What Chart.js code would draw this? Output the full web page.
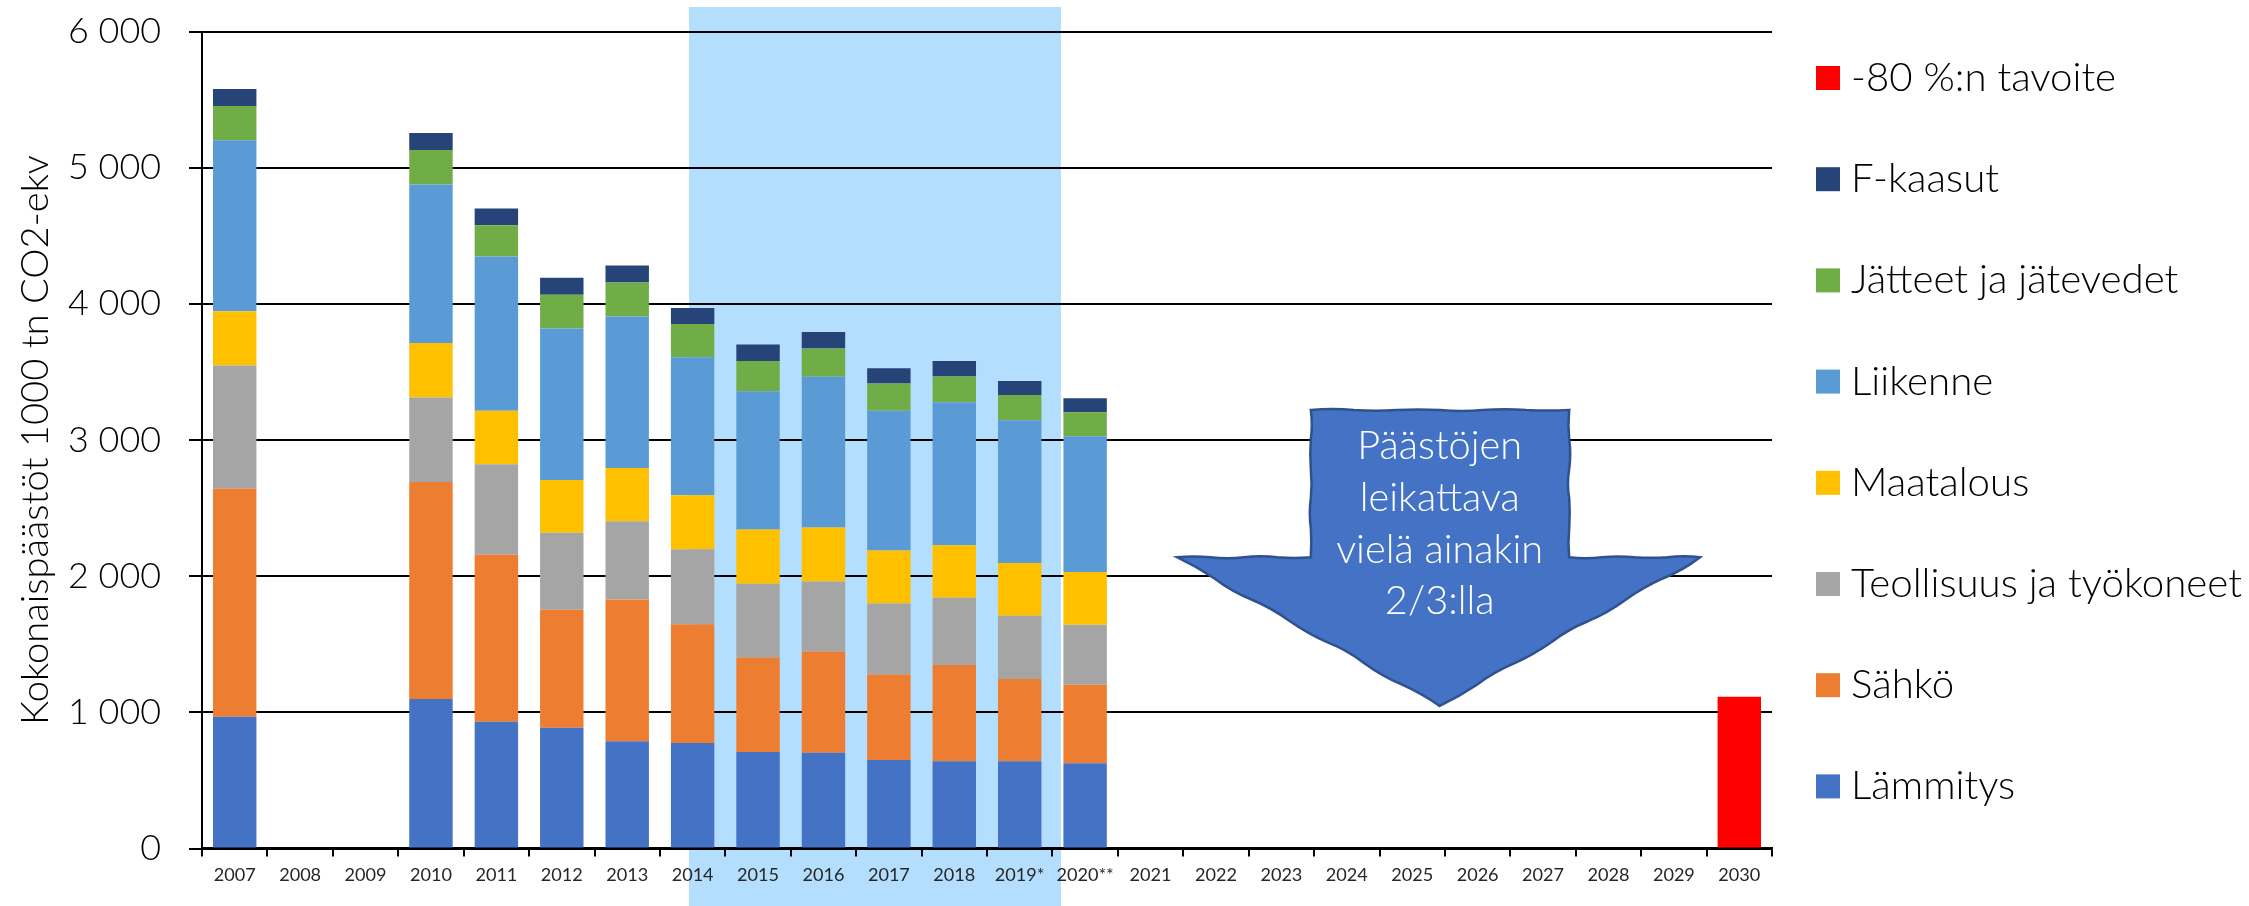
<!DOCTYPE html>
<html>
<head>
    <title>Kokonaispäästöt</title>
    <script src="https://cdn.jsdelivr.net/npm/chart.js"></script>
    <style>
        body { margin: 0; background: #fff; }
    </style>
</head>
<body>
    <canvas id="emissionsChart" width="2249" height="906"></canvas>

    <script>
        // data (1000 tn CO2-ekv)
        const years = ['2007', '2008', '2009', '2010', '2011', '2012', '2013', '2014', '2015', '2016', '2017', '2018', '2019*', '2020**',
                       '2021', '2022', '2023', '2024', '2025', '2026', '2027', '2028', '2029', '2030'];
        const lammitys  = [968, null, null, 1098, 931, 887, 787, 775, 709, 704, 650, 641, 641, 626];
        const sahko     = [1675, null, null, 1594, 1227, 867, 1041, 872, 693, 742, 627, 707, 604, 577];
        const teollisuus = [904, null, null, 620, 664, 564, 576, 551, 543, 514, 522, 494, 465, 441];
        const maatalous = [399, null, null, 401, 392, 389, 391, 396, 397, 397, 389, 385, 387, 387];
        const liikenne  = [1256, null, null, 1163, 1133, 1112, 1112, 1014, 1016, 1107, 1026, 1051, 1048, 997];
        const jatteet   = [250, null, null, 253, 231, 247, 249, 243, 223, 208, 201, 188, 186, 176];
        const fKaasut   = [125, null, null, 125, 122, 125, 125, 119, 120, 122, 112, 115, 103, 103];
        const tavoite   = [null, null, null, null, null, null, null, null, null, null, null, null, null, null,
                           null, null, null, null, null, null, null, null, null, 1115];
        const yMax = 6000;
        const yStep = 1000;
        const arrowLines = ['Päästöjen', 'leikattava', 'vielä ainakin', '2/3:lla'];

        const FONT = 'Lato, "Open Sans", sans-serif';
        const measureCtx = document.createElement('canvas').getContext('2d');
        function fitSize(text, width, weight) {
            measureCtx.font = weight + ' 100px ' + FONT;
            return 100 * width / measureCtx.measureText(text).width;
        }
        const yTickSize = fitSize('6 000', 93, 300);
        const xTickSize = fitSize('2007', 42, 400);
        const legendSize = fitSize('Teollisuus ja työkoneet', 391, 300);
        const arrowSize = fitSize('vielä ainakin', 207, 300);
        const titleSize = fitSize('Kokonaispäästöt 1000 tn CO2-ekv', 570, 300);

        function spaced(v) {
            return String(v).replace(/\B(?=(\d{3})+(?!\d))/g, ' ');
        }

        // light blue band behind 2014-2019
        const shadePlugin = {
            id: 'shade',
            beforeDraw(chart) {
                const x = chart.scales.x, y = chart.scales.y, ctx = chart.ctx;
                const x0 = x.getPixelForValue(6.944), x1 = x.getPixelForValue(12.63);
                const top = y.getPixelForValue(6180);
                ctx.save();
                ctx.fillStyle = '#B3DEFD';
                ctx.fillRect(x0, top, x1 - x0, chart.height - top);
                ctx.restore();
            }
        };

        function wavyTo(ctx, x0, y0, x1, y1, wobble) {
            const n = wobble.length;
            const len = Math.hypot(x1 - x0, y1 - y0);
            const nx = -(y1 - y0) / len, ny = (x1 - x0) / len;
            const dx = (x1 - x0) / n, dy = (y1 - y0) / n;
            for (let i = 0; i < n; i++) {
                const mx = x0 + dx * (i + 0.5) + nx * wobble[i];
                const my = y0 + dy * (i + 0.5) + ny * wobble[i];
                ctx.quadraticCurveTo(mx, my, x0 + dx * (i + 1), y0 + dy * (i + 1));
            }
        }

        // the hand drawn down arrow, placed in category / value units
        const arrowPlugin = {
            id: 'arrow',
            afterDraw(chart) {
                const xs = chart.scales.x, ys = chart.scales.y, ctx = chart.ctx;
                const L = xs.getPixelForValue(16.45), R = xs.getPixelForValue(20.40);
                const HL = xs.getPixelForValue(14.405), HR = xs.getPixelForValue(22.40);
                const TX = xs.getPixelForValue(18.42);
                const T = ys.getPixelForValue(3221), N = ys.getPixelForValue(2139), TIP = ys.getPixelForValue(1047);

                ctx.save();
                ctx.beginPath();
                ctx.moveTo(L, T);
                wavyTo(ctx, L, T, R, T, [-2, 1.5, -1, 2, -1.5, 1]);
                wavyTo(ctx, R, T, R, N, [1.5, -2, 2.5, -1, 1.5]);
                wavyTo(ctx, R, N, HR, N, [2, -1.5, 1, -2]);
                wavyTo(ctx, HR, N, TX, TIP, [-3, 2, -2.5, 3, -2, 2.5, -1.5]);
                wavyTo(ctx, TX, TIP, HL, N, [2, -2.5, 3, -2, 2.5, -3, 1.5]);
                wavyTo(ctx, HL, N, L, N, [-1.5, 2, -2, 1.5]);
                wavyTo(ctx, L, N, L, T, [1, -2, 1.5, -1, 2]);
                ctx.closePath();
                ctx.fillStyle = '#4472C4';
                ctx.fill();
                ctx.lineWidth = 2.5;
                ctx.strokeStyle = '#2F528F';
                ctx.stroke();

                ctx.fillStyle = '#fff';
                ctx.font = '300 ' + arrowSize + 'px ' + FONT;
                ctx.textAlign = 'center';
                ctx.textBaseline = 'alphabetic';
                arrowLines.forEach((line, i) => {
                    ctx.fillText(line, TX, ys.getPixelForValue(2859 - i * 380));
                });
                ctx.restore();
            }
        };

        // legend on the right, in reverse order of the stack
        const legendPlugin = {
            id: 'sideLegend',
            afterDraw(chart) {
                const ctx = chart.ctx;
                const items = chart.data.datasets.slice().reverse();
                ctx.save();
                ctx.font = '300 ' + legendSize + 'px ' + FONT;
                ctx.textBaseline = 'middle';
                ctx.textAlign = 'left';
                items.forEach((ds, i) => {
                    const cy = 78 + i * 101.2;
                    ctx.fillStyle = ds.backgroundColor;
                    ctx.fillRect(1816, cy - 12, 24, 24);
                    ctx.fillStyle = '#000';
                    ctx.fillText(ds.label, 1851, cy);
                });
                ctx.restore();
            }
        };

        const ctx = document.getElementById('emissionsChart').getContext('2d');
        new Chart(ctx, {
            type: 'bar',
            data: {
                labels: years,
                datasets: [
                    { label: 'Lämmitys', data: lammitys, backgroundColor: '#4472C4' },
                    { label: 'Sähkö', data: sahko, backgroundColor: '#ED7D31' },
                    { label: 'Teollisuus ja työkoneet', data: teollisuus, backgroundColor: '#A5A5A5' },
                    { label: 'Maatalous', data: maatalous, backgroundColor: '#FFC000' },
                    { label: 'Liikenne', data: liikenne, backgroundColor: '#5B9BD5' },
                    { label: 'Jätteet ja jätevedet', data: jatteet, backgroundColor: '#70AD47' },
                    { label: 'F-kaasut', data: fKaasut, backgroundColor: '#264478' },
                    { label: '-80 %:n tavoite', data: tavoite, backgroundColor: '#FF0000' }
                ]
            },
            options: {
                responsive: false,
                animation: false,
                devicePixelRatio: 1,
                layout: { padding: { top: 31.5, right: 477, bottom: 0, left: 0 } },
                datasets: { bar: { categoryPercentage: 1, barPercentage: 0.664 } },
                plugins: {
                    legend: { display: false },
                    tooltip: { enabled: false }
                },
                scales: {
                    x: {
                        stacked: true,
                        afterFit: scale => {
                            scale.height = 57.5;
                            scale.paddingLeft = 0;
                            scale.paddingRight = 0;
                        },
                        grid: { drawOnChartArea: false, color: '#000', lineWidth: 2, tickLength: 8 },
                        border: { color: '#000', width: 2.5 },
                        ticks: {
                            color: '#262626', padding: 8, maxRotation: 0, autoSkip: false,
                            font: { family: FONT, size: xTickSize, weight: 400 }
                        }
                    },
                    y: {
                        stacked: true,
                        min: 0,
                        max: yMax,
                        afterFit: scale => {
                            scale.width = 202;
                            scale.paddingTop = 0;
                            scale.paddingBottom = 0;
                        },
                        grid: { color: '#000', lineWidth: 2, tickLength: 13, tickColor: '#000' },
                        border: { color: '#000', width: 2 },
                        ticks: {
                            stepSize: yStep, color: '#000', padding: 28,
                            font: { family: FONT, size: yTickSize, weight: 300 },
                            callback: v => spaced(v)
                        },
                        title: {
                            display: true,
                            text: 'Kokonaispäästöt 1000 tn CO2-ekv',
                            color: '#000',
                            padding: { top: 36 - 0.6 * titleSize, bottom: 0 },
                            font: { family: FONT, size: titleSize, weight: 300 }
                        }
                    }
                }
            },
            plugins: [shadePlugin, arrowPlugin, legendPlugin]
        });
    </script>
</body>
</html>
